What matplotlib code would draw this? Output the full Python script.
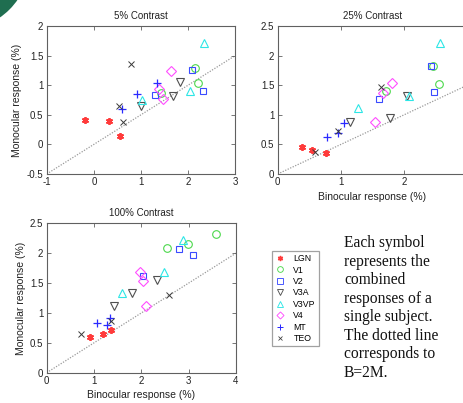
import matplotlib
matplotlib.use("Agg")
import matplotlib.pyplot as plt
from matplotlib.patches import Ellipse
from matplotlib.lines import Line2D
from matplotlib.ticker import FormatStrFormatter

plt.rcParams['font.family'] = ['Liberation Sans', 'DejaVu Sans']

areas = ["LGN", "V1", "V2", "V3A", "V3VP", "V4", "MT", "TEO"]

# 5% contrast: (binocular, monocular) per area, three subjects
c5_x = {
    "LGN": [-0.18, 0.33, 0.56],
    "V1": [2.15, 2.21, 1.42],
    "V2": [1.30, 2.08, 2.31],
    "V3A": [1.00, 1.69, 1.83],
    "V3VP": [1.02, 2.04, 2.33],
    "V4": [1.63, 1.39, 1.46],
    "MT": [1.34, 0.91, 0.59],
    "TEO": [0.79, 0.54, 0.61],
}
c5_y = {
    "LGN": [0.41, 0.40, 0.14],
    "V1": [1.29, 1.03, 0.86],
    "V2": [0.83, 1.26, 0.90],
    "V3A": [0.65, 0.81, 1.05],
    "V3VP": [0.75, 0.90, 1.72],
    "V4": [1.24, 0.93, 0.76],
    "MT": [1.03, 0.85, 0.60],
    "TEO": [1.35, 0.65, 0.37],
}
# 25% contrast
c25_x = {
    "LGN": [0.38, 0.55, 0.76],
    "V1": [2.46, 2.56, 1.72],
    "V2": [2.42, 2.48, 1.60],
    "V3A": [2.04, 1.78, 1.15],
    "V3VP": [2.57, 2.07, 1.27],
    "V4": [1.81, 1.66, 1.54],
    "MT": [0.78, 0.95, 1.05],
    "TEO": [1.63, 0.95, 0.59],
}
c25_y = {
    "LGN": [0.46, 0.41, 0.35],
    "V1": [1.83, 1.52, 1.40],
    "V2": [1.83, 1.39, 1.27],
    "V3A": [1.32, 0.94, 0.88],
    "V3VP": [2.21, 1.31, 1.11],
    "V4": [1.53, 1.37, 0.88],
    "MT": [0.63, 0.69, 0.86],
    "TEO": [1.47, 0.73, 0.38],
}
# 100% contrast
c100_x = {
    "LGN": [0.92, 1.20, 1.35],
    "V1": [2.55, 2.99, 3.57],
    "V2": [2.04, 2.80, 3.09],
    "V3A": [1.42, 1.81, 2.34],
    "V3VP": [1.59, 2.47, 2.89],
    "V4": [1.97, 2.04, 2.09],
    "MT": [1.06, 1.27, 1.34],
    "TEO": [0.73, 1.36, 2.59],
}
c100_y = {
    "LGN": [0.59, 0.64, 0.71],
    "V1": [2.08, 2.15, 2.32],
    "V2": [1.62, 2.07, 1.97],
    "V3A": [1.12, 1.33, 1.55],
    "V3VP": [1.33, 1.69, 2.22],
    "V4": [1.69, 1.53, 1.12],
    "MT": [0.83, 0.80, 0.92],
    "TEO": [0.65, 0.86, 1.30],
}

titles = ["5% Contrast", "25% Contrast", "100% Contrast"]
xlims = [(-1, 3), (0, 3), (0, 4)]
ylims = [(-0.5, 2), (0, 2.5), (0, 2.5)]
xticks = [[-1, 0, 1, 2, 3], [0, 1, 2], [0, 1, 2, 3, 4]]
yticks = [[-0.5, 0, 0.5, 1, 1.5, 2], [0, 0.5, 1, 1.5, 2, 2.5], [0, 0.5, 1, 1.5, 2, 2.5]]
line_x = [[-1, 3], [0, 3], [0, 4]]

styles = {
    "LGN": dict(marker=(6, 2, 0), color="#ff3b3b", ms=5.0, mew=1.3),
    "V1": dict(marker="o", color="#4cd84c", ms=5.5, mew=0.8),
    "V2": dict(marker="s", color="#3a4bff", ms=5.0, mew=0.8),
    "V3A": dict(marker="v", color="#505050", ms=5.5, mew=0.8),
    "V3VP": dict(marker="^", color="#2de6e6", ms=5.5, mew=0.8),
    "V4": dict(marker="D", color="#ff4dff", ms=4.8, mew=0.8),
    "MT": dict(marker="+", color="#2a2aff", ms=6.0, mew=0.9),
    "TEO": dict(marker="x", color="#3a3a3a", ms=4.5, mew=0.7),
}

W, H = 464, 403
fig = plt.figure(figsize=(W / 100, H / 100), dpi=100)

def ax_rect(left, top, width, height):
    return [left / W, 1 - (top + height) / H, width / W, height / H]

rects = [ax_rect(46.7, 26, 188.5, 148), ax_rect(277.7, 26, 189.6, 148),
         ax_rect(46.7, 223.3, 189.3, 149.4)]
datasets = [(c5_x, c5_y), (c25_x, c25_y), (c100_x, c100_y)]

spine_col = "#606060"
for i, (rect, (dx, dy)) in enumerate(zip(rects, datasets)):
    ax = fig.add_axes(rect)
    ax.plot(line_x[i], [v / 2 for v in line_x[i]], linestyle=(0, (1, 1.2)),
            color="#9a9a9a", lw=0.9, zorder=1)
    for a in areas:
        st = styles[a]
        filled = st["marker"] in ((6, 2, 0), "+", "x")
        ax.plot(dx[a], dy[a], linestyle="none", marker=st["marker"],
                ms=st["ms"], mew=st["mew"], color=st["color"],
                mfc=st["color"] if filled else "none", mec=st["color"], zorder=3)
    ax.set_xlim(*xlims[i])
    ax.set_ylim(*ylims[i])
    ax.set_xticks(xticks[i])
    ax.set_yticks(yticks[i])
    ax.yaxis.set_major_formatter(FormatStrFormatter("%g"))
    ax.xaxis.set_major_formatter(FormatStrFormatter("%g"))
    ax.tick_params(direction="in", length=3, width=0.6, labelsize=7,
                   colors="#222222", top=True, right=True, pad=2.5)
    ax.tick_params(axis="both", color=spine_col)
    for s in ax.spines.values():
        s.set_color(spine_col)
        s.set_linewidth(0.8)
    ax.set_title(titles[i], fontsize=7, pad=5, color="#222222")
    if i in (0, 2):
        ax.set_ylabel("Monocular response (%)", fontsize=7.5, labelpad=3, color="#222222")
    if i in (1, 2):
        ax.set_xlabel("Binocular response (%)", fontsize=7.5, labelpad=3, color="#222222")

# legend
handles = []
for a in areas:
    st = styles[a]
    filled = st["marker"] in ((6, 2, 0), "+", "x")
    handles.append(Line2D([], [], linestyle="none", marker=st["marker"],
                          ms=st["ms"] * 0.75, mew=st["mew"] * 0.8, color=st["color"],
                          mfc=st["color"] if filled else "none", mec=st["color"]))
leg = fig.legend(handles, areas, loc="upper left",
                 bbox_to_anchor=(272 / W, 1 - 251 / H), borderaxespad=0,
                 fontsize=6.3, handlelength=1.2, handletextpad=0.9,
                 labelspacing=0.28, borderpad=0.35, frameon=True, fancybox=False)
leg.get_frame().set_edgecolor("#8a8a8a")
leg.get_frame().set_linewidth(0.9)

fig.text(344 / W, 1 - 235 / H,
         "Each symbol\nrepresents the\ncombined\nresponses of a\nsingle subject.\nThe dotted line\ncorresponds to\nB=2M.",
         family=["Liberation Serif", "DejaVu Serif"], fontsize=11.2,
         linespacing=1.21, va="top", ha="left", color="#111111")

# corner decoration
fig.patches.append(Ellipse((-40 / W, 1 + 40 / H), 2 * 70 / W, 2 * 70 / H,
                           transform=fig.transFigure, facecolor="#1f6e50",
                           edgecolor="none", zorder=0))

fig.savefig("out.png", dpi=100)
